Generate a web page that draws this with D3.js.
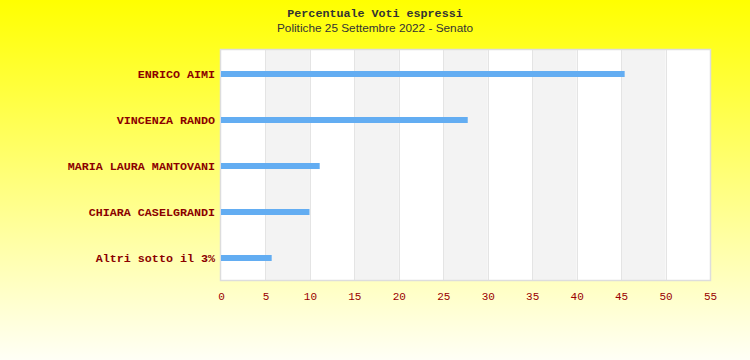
<!DOCTYPE html>
<html><head><meta charset="utf-8">
<script src="https://cdn.jsdelivr.net/npm/d3@7"></script>
<style>body{margin:0;padding:0;}svg{display:block;}</style>
</head><body>
<svg id="chart" width="750" height="360"></svg>
<script>
const categories = ["ENRICO AIMI","VINCENZA RANDO","MARIA LAURA MANTOVANI","CHIARA CASELGRANDI","Altri sotto il 3%"];
const values = [45.4, 27.75, 11.1, 9.95, 5.7];
const tickValues = [0,5,10,15,20,25,30,35,40,45,50,55];
const title = "Percentuale Voti espressi";
const subtitle = "Politiche 25 Settembre 2022 - Senato";

const svg = d3.select("#chart");
const W = 750, H = 360;
const m = {left:221, right:40, top:50, bottom:80};
const defs = svg.append("defs");
const grad = defs.append("linearGradient").attr("id","bg").attr("x1",0).attr("y1",0).attr("x2",0).attr("y2",1);
grad.append("stop").attr("offset","0%").attr("stop-color","#ffff00");
grad.append("stop").attr("offset","100%").attr("stop-color","#fffff6");
svg.append("rect").attr("width",W).attr("height",H).attr("fill","url(#bg)");

const x = d3.scaleLinear().domain([0,55]).range([m.left, W - m.right]);
const y = d3.scaleBand().domain(categories).range([m.top, H - m.bottom]);

// plot background
svg.append("rect").attr("x",x(0)).attr("y",m.top).attr("width",x(55)-x(0)).attr("height",H-m.bottom-m.top).attr("fill","#ffffff");
const bands = d3.pairs(tickValues);
svg.append("g").selectAll("rect").data(bands.filter((d,i)=>i%2===1)).join("rect")
  .attr("x",d=>x(d[0])).attr("y",m.top).attr("width",d=>x(d[1])-x(d[0])).attr("height",H-m.bottom-m.top)
  .attr("fill","#f3f3f3");
svg.append("g").selectAll("line").data(tickValues.slice(1,-1)).join("line")
  .attr("x1",d=>Math.round(x(d))+0.5).attr("x2",d=>Math.round(x(d))+0.5)
  .attr("y1",m.top).attr("y2",H-m.bottom).attr("stroke","#e4e4e4").attr("stroke-width",1);
svg.append("rect").attr("x",x(0)-0.5).attr("y",m.top-0.5).attr("width",x(55)-x(0)+1).attr("height",H-m.bottom-m.top+1)
  .attr("fill","none").attr("stroke","#dddddd").attr("stroke-width",1.5);

// bars
svg.append("g").selectAll("rect").data(categories).join("rect")
  .attr("x",x(0)).attr("y",d=>Math.round(y(d)+y.bandwidth()/2-2)).attr("height",6)
  .attr("width",(d,i)=>x(values[i])-x(0)).attr("fill","#63adf2");

// y labels
svg.append("g").selectAll("text").data(categories).join("text")
  .attr("x",x(0)-6).attr("y",d=>y(d)+y.bandwidth()/2+5)
  .attr("text-anchor","end").attr("font-family","'Liberation Mono', monospace").attr("font-weight","bold")
  .attr("font-size","11.7px").attr("fill","#8b0000").text(d=>d);

// x axis labels
const xAxis = d3.axisBottom(x).tickValues(tickValues).tickSize(0).tickPadding(0);
const gx = svg.append("g").attr("transform",`translate(0,${H-m.bottom+12})`).call(xAxis);
gx.select(".domain").remove();
gx.selectAll("text").attr("font-family","'Liberation Mono', monospace").attr("font-size","11px").attr("fill","#990000");

// titles
svg.append("text").attr("x",375).attr("y",17).attr("text-anchor","middle")
  .attr("font-family","'Liberation Mono', monospace").attr("font-weight","bold").attr("font-size","11.7px").attr("fill","#333333").text(title);
svg.append("text").attr("x",375).attr("y",32).attr("text-anchor","middle")
  .attr("font-family","'Liberation Sans', Arial, sans-serif").attr("font-size","11.8px").attr("fill","#333333").text(subtitle);
</script>
</body></html>
